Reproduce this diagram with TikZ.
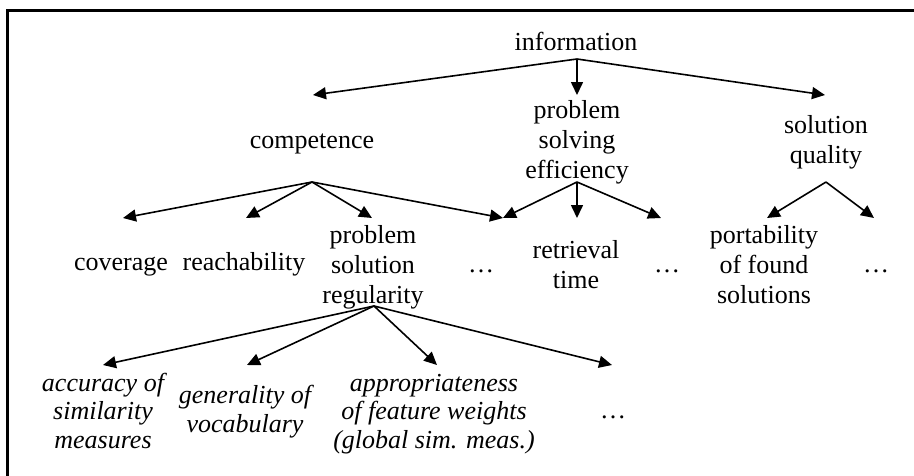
\documentclass[tikz,border=0pt]{standalone}
\usepackage{fontspec}
\setmainfont{Liberation Serif}
\usetikzlibrary{arrows.meta}
\begin{document}
\begin{tikzpicture}[x=1pt,y=-1pt,
  lbl/.style={inner sep=0pt, align=center, anchor=base,
    font=\fontsize{26}{30}\selectfont},
  ilbl/.style={lbl, font=\fontsize{26}{28.5}\selectfont\itshape},
  arr/.style={line width=1.6pt, -{Triangle[length=13pt,width=12pt]}},
]
\useasboundingbox (0,0) rectangle (914,475);
\clip (0,0) rectangle (914,475);
\fill[white] (0,0) rectangle (914,475);
% frame around the tree
\draw[line width=3pt] (7,495) -- (7,10) -- (935,10);

% level 0 (multi-line labels are placed by the baseline of their last line)
\node[lbl] (info) at (576,50) {information};
% level 1
\node[lbl] (comp) at (312,148) {competence};
\node[lbl] (eff)  at (577,178) {problem\\solving\\efficiency};
\node[lbl] (qual) at (826,163) {solution\\quality};
% level 2
\node[lbl] (cov)   at (121,270) {coverage};
\node[lbl] (reach) at (244,270) {reachability};
\node[lbl] (reg)   at (373,303) {problem\\solution\\regularity};
\node[lbl] (dotsA) at (481,272) {…};
\node[lbl] (retr)  at (576,288) {retrieval\\time};
\node[lbl] (dotsB) at (667,272) {…};
\node[lbl] (port)  at (764,303) {portability\\of found\\solutions};
\node[lbl] (dotsC) at (876,272) {…};
% level 3
\node[ilbl] (acc)   at (103,448) {accuracy of\\similarity\\measures};
\node[ilbl] (gen)   at (245,432) {generality of\\vocabulary};
\node[ilbl] (appr)  at (434,448) {appropriateness\\of feature weights\\(global sim. meas.)};
\node[lbl]  (dotsD) at (613,418) {…};

% connector end points
\coordinate (info-out)  at (577,59);
\coordinate (comp-in)   at (313,95);
\coordinate (eff-in)    at (577,95);
\coordinate (qual-in)   at (825,95);
\coordinate (comp-out)  at (312,182);
\coordinate (eff-out)   at (577,182);
\coordinate (qual-out)  at (826,182);
\coordinate (cov-in)    at (123,218);
\coordinate (reach-in)  at (246,218);
\coordinate (reg-in)    at (372,218);
\coordinate (dotsA-in)  at (503,218);
\coordinate (retr-in)   at (577,218);
\coordinate (dotsB-in)  at (661,218);
\coordinate (port-in)   at (767,218);
\coordinate (dotsC-in)  at (874,218);
\coordinate (reg-out)   at (374,306);
\coordinate (acc-in)    at (103,365);
\coordinate (gen-in)    at (247,365);
\coordinate (appr-in)   at (437,365);
\coordinate (dotsD-in)  at (612,365);

% connectors
\draw[arr] (info-out) -- (comp-in);
\draw[arr] (info-out) -- (eff-in);
\draw[arr] (info-out) -- (qual-in);
\draw[arr] (comp-out) -- (cov-in);
\draw[arr] (comp-out) -- (reach-in);
\draw[arr] (comp-out) -- (reg-in);
\draw[arr] (comp-out) -- (dotsA-in);
\draw[arr] (eff-out) -- (dotsA-in);
\draw[arr] (eff-out) -- (retr-in);
\draw[arr] (eff-out) -- (dotsB-in);
\draw[arr] (qual-out) -- (port-in);
\draw[arr] (qual-out) -- (dotsC-in);
\draw[arr] (reg-out) -- (acc-in);
\draw[arr] (reg-out) -- (gen-in);
\draw[arr] (reg-out) -- (appr-in);
\draw[arr] (reg-out) -- (dotsD-in);
\end{tikzpicture}
\end{document}
